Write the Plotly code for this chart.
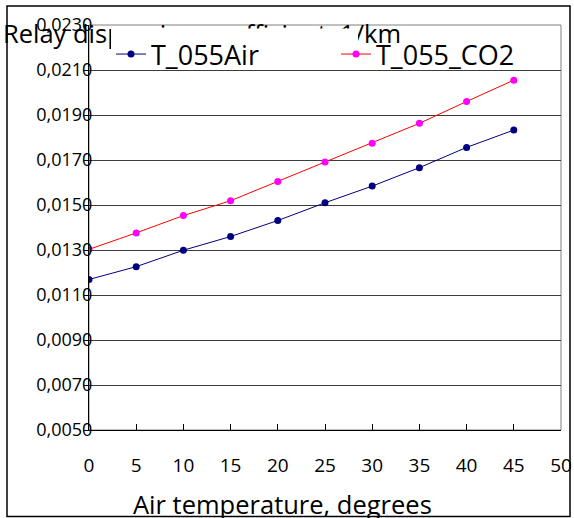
import plotly.graph_objects as go

# Air temperature, degrees
temperature = [0, 5, 10, 15, 20, 25, 30, 35, 40, 45]

# Relay dispersion coefficient, 1/km
air_values = [0.01169, 0.01226, 0.01299, 0.01360, 0.01431,
              0.01510, 0.01584, 0.01666, 0.01756, 0.01833]
co2_values = [0.01303, 0.01376, 0.01453, 0.01519, 0.01605,
              0.01691, 0.01774, 0.01863, 0.01960, 0.02055]

series_names = ["T_055Air", "T_055_CO2"]
chart_title = "Relay dispersion coefficient, 1/km"
x_title = "Air temperature, degrees"

FONT = "Open Sans, Liberation Sans, sans-serif"

W, H = 574, 518
L, R, T, B = 89, 13, 25, 88
PW, PH = W - L - R, H - T - B

# x-axis and y-axis ranges
X_RANGE = [0, 50]
Y_RANGE = [0.005, 0.023]


def px_to_paper_x(px):
    return (px - L) / PW


def px_to_paper_y(py):
    return (H - B - py) / PH


def px_to_data_x(px):
    return X_RANGE[0] + (px - L) / PW * (X_RANGE[1] - X_RANGE[0])


def px_to_data_y(py):
    return Y_RANGE[1] - (py - T) / PH * (Y_RANGE[1] - Y_RANGE[0])


fig = go.Figure()

# Chart title drawn in the plot layer; the legend's white panel sits over it
fig.add_trace(go.Scatter(
    x=[px_to_data_x(202)], y=[px_to_data_y(37)],
    mode="text", text=[chart_title], textposition="middle center",
    textfont=dict(family=FONT, size=25.5, color="black"),
    cliponaxis=False, showlegend=False, hoverinfo="skip",
))

fig.add_trace(go.Scatter(
    x=temperature, y=air_values, name=series_names[0],
    mode="lines+markers",
    line=dict(color="#000080", width=1),
    marker=dict(color="#000080", size=7),
    legend="legend",
))
fig.add_trace(go.Scatter(
    x=temperature, y=co2_values, name=series_names[1],
    mode="lines+markers",
    line=dict(color="#FF0000", width=1),
    marker=dict(color="#FF00FF", size=7),
    legend="legend2",
))

legend_style = dict(
    orientation="h", xanchor="left",
    y=px_to_paper_y(30), yanchor="top",
    bgcolor="rgba(0,0,0,0)", borderwidth=0,
    font=dict(family=FONT, size=27, color="black"),
)

fig.update_layout(
    width=W, height=H, autosize=False,
    margin=dict(l=L, r=R, t=T, b=B, pad=0, autoexpand=False),
    paper_bgcolor="white", plot_bgcolor="white",
    separators=", ",
    font=dict(family=FONT, color="black"),
    showlegend=True,
    legend=dict(x=px_to_paper_x(111), **legend_style),
    legend2=dict(x=px_to_paper_x(336), **legend_style),
    xaxis=dict(
        range=X_RANGE, tick0=0, dtick=5, automargin=False,
        showgrid=False, zeroline=False,
        showline=True, linecolor="black", linewidth=1,
        ticks="inside", ticklen=6, tickcolor="black",
        tickfont=dict(family=FONT, size=19, color="black"),
        ticklabelstandoff=18,
    ),
    yaxis=dict(
        range=Y_RANGE, tick0=0.005, dtick=0.002, tickformat=".4f",
        automargin=False,
        showgrid=True, gridcolor="#3c3c3c", gridwidth=1,
        zeroline=False,
        showline=True, linecolor="black", linewidth=1,
        ticks="outside", ticklen=4, tickcolor="black",
        tickfont=dict(family=FONT, size=18, color="black"),
        ticklabelstandoff=-12,
    ),
    shapes=[
        # plot-area border
        dict(type="rect", xref="paper", yref="paper", x0=0, x1=1, y0=0, y1=1,
             line=dict(color="#808080", width=1), layer="below"),
        # white legend panel
        dict(type="rect", xref="paper", yref="paper",
             x0=px_to_paper_x(111), x1=px_to_paper_x(358),
             y0=px_to_paper_y(66), y1=px_to_paper_y(28.5),
             fillcolor="white", line=dict(width=0), layer="above"),
        # chart frame
        dict(type="rect", xref="paper", yref="paper",
             x0=px_to_paper_x(7), x1=px_to_paper_x(570),
             y0=px_to_paper_y(516.5), y1=px_to_paper_y(6),
             line=dict(color="black", width=1.5), layer="above"),
    ],
    annotations=[
        dict(text=x_title, xref="paper", yref="paper",
             x=px_to_paper_x(282.5), y=px_to_paper_y(504),
             xanchor="center", yanchor="middle", showarrow=False,
             font=dict(family=FONT, size=25.5, color="black")),
    ],
)

fig.write_html("out.html")
